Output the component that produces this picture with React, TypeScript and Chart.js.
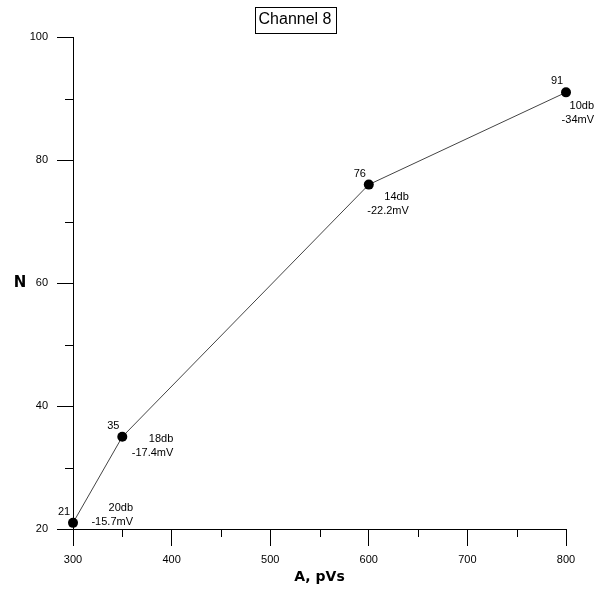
import React, { useEffect, useRef } from "react";
import { Chart, registerables } from "chart.js";

Chart.register(...registerables);

const xValues = [300, 350, 600, 800];
const nValues = [21, 35, 76, 91];
const dbLabels = ["20db", "18db", "14db", "10db"];
const mvLabels = ["-15.7mV", "-17.4mV", "-22.2mV", "-34mV"];
const xMinorTicks = [350, 450, 550, 650, 750];
const yMinorTicks = [30, 50, 70, 90];
const chartTitle = "Channel 8";
const xTitle = "A, pVs";
const yTitle = "N";

const FONT = "'Liberation Sans', Arial, sans-serif";
const BOLD = "'DejaVu Sans', Verdana, sans-serif";

// pixel offsets (right-aligned) of the db/mV annotations for each point
const noteOffsets = [
  [60, -15],
  [51, 2],
  [40, 12],
  [28, 14],
];

const decorPlugin = {
  id: "decor",
  afterDraw(chart: any) {
    const { ctx, scales } = chart;
    const xs = scales.x;
    const ys = scales.y;
    const area = chart.chartArea;
    ctx.save();
    // minor ticks
    ctx.strokeStyle = "#000";
    ctx.lineWidth = 1;
    ctx.beginPath();
    xMinorTicks.forEach((v) => {
      const px = Math.round(xs.getPixelForValue(v)) + 0.5;
      ctx.moveTo(px, area.bottom);
      ctx.lineTo(px, area.bottom + 8);
    });
    yMinorTicks.forEach((v) => {
      const py = Math.round(ys.getPixelForValue(v)) + 0.5;
      ctx.moveTo(area.left - 8, py);
      ctx.lineTo(area.left, py);
    });
    ctx.stroke();

    // title box
    ctx.font = `16px ${FONT}`;
    ctx.fillStyle = "#000";
    ctx.textAlign = "center";
    ctx.textBaseline = "middle";
    const cx = 295;
    const tw = ctx.measureText(chartTitle).width;
    ctx.fillText(chartTitle, cx, 20);
    ctx.strokeStyle = "#000";
    ctx.strokeRect(Math.round(cx - tw / 2 - 4) + 0.5, 7.5, Math.round(tw + 8), 26);

    // axis titles
    ctx.font = `bold 14px ${BOLD}`;
    ctx.fillText(xTitle, (area.left + area.right) / 2, 577);
    ctx.font = `bold 15px ${BOLD}`;
    ctx.fillText(yTitle, 20, (area.top + area.bottom) / 2);

    // point annotations
    ctx.font = `11px ${FONT}`;
    xValues.forEach((xv, i) => {
      const px = xs.getPixelForValue(xv);
      const py = ys.getPixelForValue(nValues[i]);
      ctx.textAlign = "center";
      ctx.fillText(String(nValues[i]), px - 9, py - 11);
      ctx.textAlign = "right";
      const [dx, dy] = noteOffsets[i];
      ctx.fillText(dbLabels[i], px + dx, py + dy);
      ctx.fillText(mvLabels[i], px + dx, py + dy + 14);
    });
    ctx.restore();
  },
};

export default function App() {
  const ref = useRef<HTMLCanvasElement>(null);
  useEffect(() => {
    if (!ref.current) return;
    const chart = new Chart(ref.current, {
      type: "scatter",
      data: {
        datasets: [
          {
            data: xValues.map((x, i) => ({ x, y: nValues[i] })),
            showLine: true,
            clip: false,
            borderColor: "#444",
            borderWidth: 1,
            pointRadius: 5,
            pointBackgroundColor: "#000",
            pointBorderColor: "#000",
            pointBorderWidth: 0,
          },
        ],
      },
      options: {
        animation: false,
        responsive: false,
        maintainAspectRatio: false,
        layout: { padding: { top: 37, right: 47, left: 0, bottom: 0 } },
        plugins: {
          legend: { display: false },
          tooltip: { enabled: false },
          title: { display: false },
        },
        scales: {
          x: {
            type: "linear",
            min: 300,
            max: 800,
            ticks: { stepSize: 100, color: "#000", font: { size: 11, family: FONT }, padding: 7, maxRotation: 0 },
            grid: { drawOnChartArea: false, drawTicks: true, tickLength: 17, tickColor: "#000" },
            border: { display: true, color: "#000", width: 1 },
            afterFit: (s: any) => {
              s.height = 61;
            },
          },
          y: {
            type: "linear",
            min: 20,
            max: 100,
            ticks: { stepSize: 20, color: "#000", font: { size: 11, family: FONT }, padding: 9 },
            grid: { drawOnChartArea: false, drawTicks: true, tickLength: 16, tickColor: "#000" },
            border: { display: true, color: "#000", width: 1 },
            afterFit: (s: any) => {
              s.width = 73;
            },
          },
        },
      },
      plugins: [decorPlugin],
    });
    return () => chart.destroy();
  }, []);
  return (
    <div style={{ position: "fixed", left: 0, top: 0, width: 613, height: 590, background: "#fff" }}>
      <canvas ref={ref} width={613} height={590} style={{ width: 613, height: 590 }} />
    </div>
  );
}
